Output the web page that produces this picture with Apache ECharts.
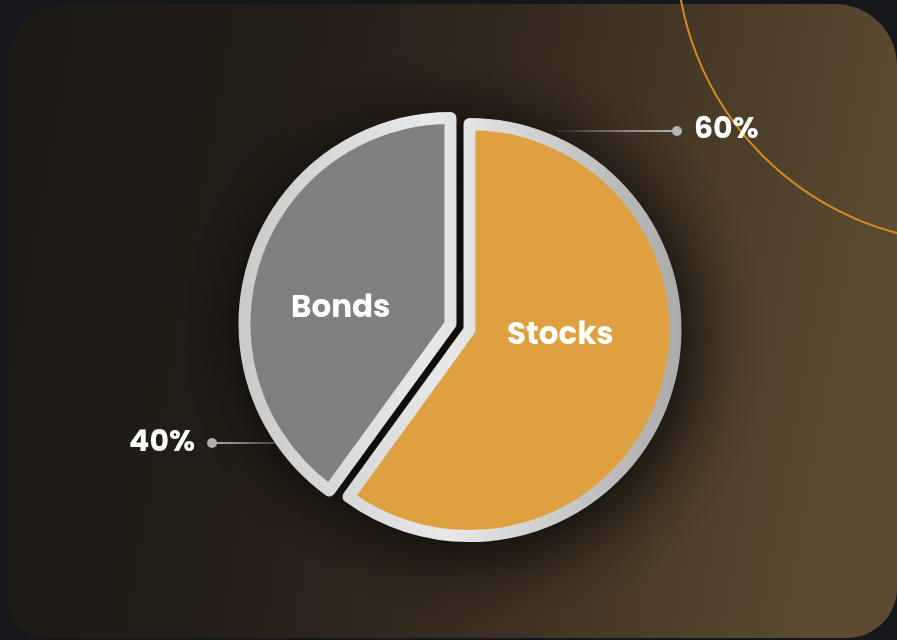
<!DOCTYPE html>
<html lang="en">
<head>
<meta charset="UTF-8">
<title>Stocks vs Bonds</title>
<script src="https://cdn.jsdelivr.net/npm/echarts@6.0.0/dist/echarts.min.js"></script>
<style>
  html, body { margin: 0; padding: 0; background: #16171b; }
  #main { width: 897px; height: 640px; }
</style>
</head>
<body>
<div id="main"></div>
<script>
// data
var categories = ['Stocks', 'Bonds'];
var shares = [60, 40];

// look
var sliceColors = ['#dfa042', '#808080'];
var labelNudge = [[-10, -27], [-9, 18]];   // inner name labels, px
var font = 'Poppins, Inter, "Open Sans", sans-serif';
var pieCenter = [460, 327];
var pieRadius = 206;
var pieOffset = 10;

var G = echarts.graphic;

var rim = new G.LinearGradient(243, 0, 677, 0, [
    {offset: 0, color: '#c9c9c9'},
    {offset: 0.45, color: '#e8e8e8'},
    {offset: 1, color: '#a9a9a9'}
], true);

function fade(toLeft) {
    var stops = [
        {offset: 0, color: 'rgba(175,175,175,0)'},
        {offset: 0.35, color: 'rgba(175,175,175,0.55)'},
        {offset: 1, color: '#b6b6b6'}
    ];
    return toLeft ? new G.LinearGradient(1, 0, 0, 0, stops) : new G.LinearGradient(0, 0, 1, 0, stops);
}

var chart = echarts.init(document.getElementById('main'), null, {renderer: 'canvas'});

var pieBase = {
    type: 'pie',
    center: pieCenter,
    radius: pieRadius,
    startAngle: 90,
    selectedMode: 'multiple',
    selectedOffset: pieOffset,
    avoidLabelOverlap: false,
    emphasis: {disabled: true}
};

var option = {
    backgroundColor: 'transparent',
    animation: false,
    graphic: [
        {
            type: 'rect', z: -10, silent: true,
            shape: {x: 7, y: 4, width: 890, height: 634, r: [62, 62, 50, 40]},
            style: {
                fill: new G.LinearGradient(0, 0, 1, 0.25, [
                    {offset: 0, color: '#1d1a16'},
                    {offset: 0.3, color: '#231d17'},
                    {offset: 0.55, color: '#33281d'},
                    {offset: 0.8, color: '#4a3c28'},
                    {offset: 1, color: '#5c4b32'}
                ])
            }
        },
        {
            type: 'circle', z: -5, silent: true,
            shape: {cx: 973, cy: -54, r: 297},
            style: {fill: 'none', stroke: '#d48b1f', lineWidth: 2}
        }
    ],
    series: [
        {
            // percentage call-outs (sectors invisible, lines tucked under the pie)
            type: 'pie',
            z: 1,
            silent: true,
            center: [444.5, 287],
            radius: 190,
            startAngle: 163.2,
            avoidLabelOverlap: false,
            itemStyle: {color: 'rgba(0,0,0,0)'},
            emphasis: {disabled: true},
            label: {
                show: true,
                position: 'outside',
                distanceToLabelLine: -5,
                formatter: function (p) {
                    var v = '{val|' + p.percent + '%}';
                    return p.dataIndex === 0 ? '{dot|}{gap|}' + v : v + '{gap|}{dot|}';
                },
                rich: {
                    dot: {width: 10, height: 10, borderRadius: 5, backgroundColor: '#b6b6b6'},
                    gap: {width: 12},
                    val: {color: '#ffffff', fontSize: 30, fontWeight: 'bold', fontFamily: font}
                }
            },
            labelLine: {show: true, length: 0, length2: 124, lineStyle: {width: 2}},
            data: categories.map(function (name, i) {
                return {name: name, value: shares[i], labelLine: {lineStyle: {color: fade(i === 1)}}};
            })
        },
        Object.assign({}, pieBase, {
            // shadow backdrop, same slices
            z: 2,
            silent: true,
            itemStyle: {
                color: '#0b0907',
                borderColor: '#0b0907',
                borderWidth: 12,
                shadowBlur: 70,
                shadowColor: 'rgba(0,0,0,0.9)',
                shadowOffsetX: 8,
                shadowOffsetY: 10
            },
            select: {itemStyle: {borderColor: '#0b0907', borderWidth: 12}},
            label: {show: false},
            labelLine: {show: false},
            data: categories.map(function (name, i) {
                return {name: name, value: shares[i], selected: true};
            })
        }),
        Object.assign({}, pieBase, {
            z: 3,
            itemStyle: {borderColor: rim, borderWidth: 12},
            select: {itemStyle: {borderColor: rim, borderWidth: 12}},
            label: {
                show: true,
                position: 'inside',
                formatter: '{b}',
                color: '#ffffff',
                fontSize: 31,
                fontWeight: 'bold',
                fontFamily: font
            },
            labelLine: {show: false},
            labelLayout: function (p) {
                var n = labelNudge[p.dataIndex];
                return {dx: n[0], dy: n[1]};
            },
            data: categories.map(function (name, i) {
                return {name: name, value: shares[i], selected: true, itemStyle: {color: sliceColors[i]}};
            })
        })
    ]
};

chart.setOption(option);
</script>
</body>
</html>
